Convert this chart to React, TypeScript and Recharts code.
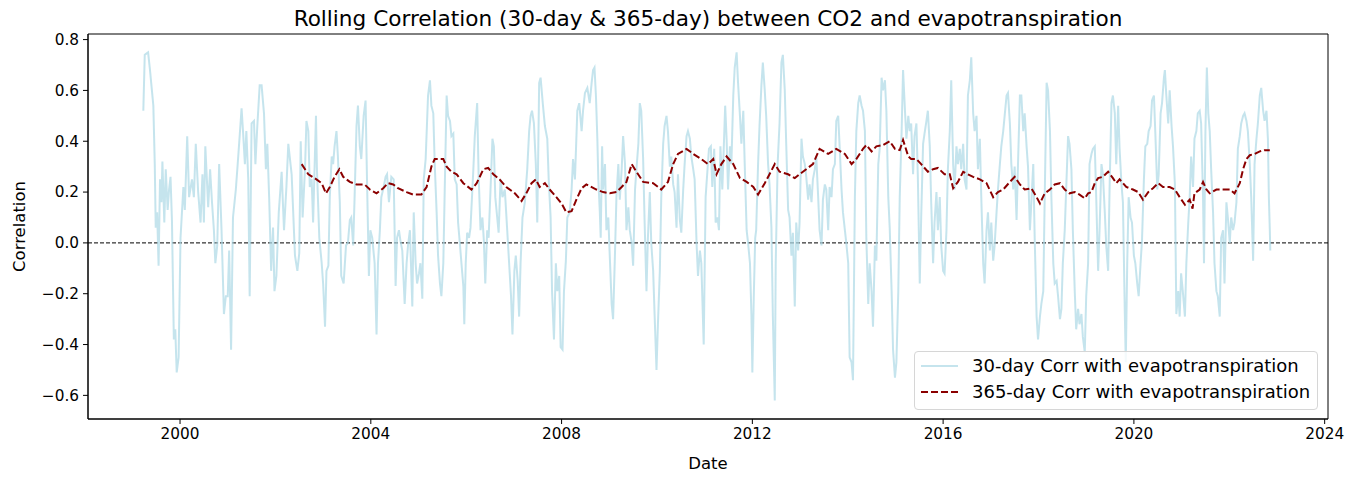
import { LineChart, Line, XAxis, YAxis, ReferenceLine, ReferenceArea, Legend } from 'recharts';

type Pt = [number, number];

const FONT = '"DejaVu Sans", Verdana, sans-serif';

const X_TICKS = [2000, 2004, 2008, 2012, 2016, 2020, 2024];
const Y_TICKS = [-0.6, -0.4, -0.2, 0, 0.2, 0.4, 0.6, 0.8];
const X_DOMAIN: [number, number] = [1998.07, 2024.07];
const Y_DOMAIN: [number, number] = [-0.693, 0.822];

const LABEL_30 = '30-day Corr with evapotranspiration';
const LABEL_365 = '365-day Corr with evapotranspiration';

// 30-day rolling correlation, [decimal year, r]
const corr30_1999: Pt[] = [
  [1999.23, 0.52], [1999.26, 0.74], [1999.33, 0.75], [1999.37, 0.68], [1999.40, 0.62], [1999.44, 0.54],
  [1999.47, 0.31], [1999.49, 0.06], [1999.52, 0.12], [1999.55, -0.09], [1999.58, 0.25], [1999.61, 0.16],
  [1999.63, 0.32], [1999.67, 0.08], [1999.70, 0.29], [1999.74, 0.13], [1999.77, 0.21], [1999.80, 0.26],
  [1999.83, 0.09], [1999.87, -0.38], [1999.90, -0.34], [1999.93, -0.51], [1999.97, -0.45], [2000.01, 0.02],
  [2000.07, 0.22], [2000.10, 0.13], [2000.15, 0.42], [2000.19, 0.18], [2000.25, 0.25], [2000.29, 0.18],
  [2000.33, 0.39], [2000.38, 0.20], [2000.43, 0.08], [2000.47, 0.27], [2000.50, 0.08], [2000.53, 0.38],
  [2000.59, 0.14], [2000.63, 0.29], [2000.67, 0.16], [2000.71, 0.05], [2000.74, -0.08], [2000.78, -0.01],
  [2000.82, 0.31], [2000.87, 0.05], [2000.92, -0.28], [2000.96, -0.21], [2001.00, -0.21], [2001.03, -0.03],
  [2001.07, -0.42], [2001.11, 0.10], [2001.17, 0.21], [2001.22, 0.34], [2001.25, 0.42], [2001.29, 0.53],
  [2001.32, 0.44], [2001.36, 0.31], [2001.39, 0.44], [2001.43, 0.25], [2001.46, -0.21], [2001.50, 0.47],
  [2001.55, 0.48], [2001.58, 0.31], [2001.62, 0.46], [2001.67, 0.62], [2001.71, 0.62], [2001.76, 0.51],
  [2001.80, 0.29], [2001.83, 0.39], [2001.87, 0.17], [2001.91, -0.11], [2001.95, 0.06], [2001.98, -0.19],
  [2002.02, -0.13], [2002.07, 0.12], [2002.13, 0.28], [2002.18, 0.05], [2002.23, 0.22], [2002.27, 0.39],
];

const corr30_2002: Pt[] = [
  [2002.34, 0.27], [2002.41, -0.05], [2002.46, -0.11], [2002.50, -0.04], [2002.53, 0.40], [2002.57, 0.10],
  [2002.62, 0.29], [2002.65, 0.48], [2002.69, 0.44], [2002.72, 0.22], [2002.76, 0.25], [2002.79, 0.08],
  [2002.85, 0.50], [2002.87, 0.29], [2002.92, 0.02], [2002.97, -0.08], [2003.00, -0.16], [2003.04, -0.33],
  [2003.07, -0.11], [2003.11, -0.09], [2003.14, 0.18], [2003.18, 0.34], [2003.21, 0.31], [2003.24, 0.38],
  [2003.28, 0.44], [2003.31, 0.34], [2003.35, 0.16], [2003.38, -0.13], [2003.43, -0.16], [2003.48, -0.01],
  [2003.52, 0.00], [2003.56, 0.09], [2003.59, 0.10], [2003.63, -0.01], [2003.66, 0.18], [2003.70, 0.46],
  [2003.73, 0.54], [2003.77, 0.38], [2003.80, 0.33], [2003.85, 0.50], [2003.89, 0.56], [2003.92, 0.25],
  [2003.96, -0.13], [2003.99, 0.05], [2004.03, 0.02], [2004.08, -0.08], [2004.12, -0.36], [2004.15, -0.08],
  [2004.19, 0.05], [2004.22, 0.18], [2004.27, 0.22], [2004.31, 0.26], [2004.34, 0.27], [2004.38, 0.16],
  [2004.43, 0.26], [2004.48, 0.25], [2004.52, -0.17], [2004.55, 0.02], [2004.59, 0.05], [2004.62, 0.01],
  [2004.66, -0.03], [2004.71, -0.24], [2004.75, -0.08], [2004.78, -0.01], [2004.82, 0.05], [2004.87, -0.25],
  [2004.90, 0.12], [2004.94, -0.08], [2004.97, -0.16], [2005.01, -0.12], [2005.04, -0.08], [2005.08, -0.22],
  [2005.11, 0.25], [2005.15, 0.33], [2005.20, 0.58], [2005.24, 0.64],
];

const corr30_2005: Pt[] = [
  [2005.27, 0.54], [2005.31, 0.51], [2005.34, 0.31], [2005.38, 0.12], [2005.41, -0.05], [2005.45, -0.16],
  [2005.48, -0.21], [2005.52, -0.08], [2005.55, 0.21], [2005.59, 0.58], [2005.62, 0.50], [2005.66, 0.48],
  [2005.69, 0.42], [2005.73, 0.43], [2005.76, 0.25], [2005.80, 0.23], [2005.83, 0.08], [2005.87, -0.01],
  [2005.90, -0.08], [2005.94, -0.17], [2005.96, -0.32], [2005.99, -0.08], [2006.02, 0.04], [2006.06, 0.02],
  [2006.09, 0.06], [2006.15, 0.29], [2006.18, 0.42], [2006.23, 0.55], [2006.26, 0.27], [2006.30, 0.05],
  [2006.34, 0.10], [2006.37, 0.01], [2006.40, -0.16], [2006.44, 0.05], [2006.47, 0.02], [2006.51, 0.21],
  [2006.55, 0.41], [2006.58, 0.38], [2006.61, 0.18], [2006.65, 0.10], [2006.68, 0.04], [2006.72, 0.25],
  [2006.76, 0.18], [2006.81, 0.21], [2006.86, 0.05], [2006.90, -0.08], [2006.94, -0.21], [2006.97, -0.36],
  [2007.01, -0.11], [2007.04, -0.05], [2007.08, -0.15], [2007.11, -0.29], [2007.14, -0.08], [2007.18, 0.10],
  [2007.23, 0.16], [2007.28, 0.29], [2007.32, 0.44], [2007.35, 0.50], [2007.38, 0.52], [2007.42, 0.47],
  [2007.46, 0.31], [2007.49, 0.08], [2007.53, 0.63], [2007.56, 0.65], [2007.61, 0.54], [2007.65, 0.46],
  [2007.70, 0.41], [2007.73, 0.25], [2007.77, 0.10], [2007.80, -0.19], [2007.84, -0.38], [2007.88, -0.08],
  [2007.91, -0.19], [2007.95, -0.13], [2007.98, -0.41], [2008.02, -0.42], [2008.05, -0.19], [2008.09, -0.07],
  [2008.12, 0.10], [2008.17, 0.12], [2008.21, 0.21], [2008.24, 0.33], [2008.28, 0.25], [2008.33, 0.52],
  [2008.37, 0.55], [2008.42, 0.44], [2008.45, 0.52], [2008.49, 0.59], [2008.54, 0.61],
];

const corr30_2008: Pt[] = [
  [2008.59, 0.55], [2008.63, 0.63], [2008.66, 0.68], [2008.69, 0.69], [2008.72, 0.58], [2008.75, 0.41],
  [2008.77, 0.25], [2008.80, 0.13], [2008.82, 0.02], [2008.85, 0.38], [2008.87, 0.21], [2008.91, 0.31],
  [2008.94, 0.05], [2008.98, 0.10], [2009.01, -0.05], [2009.05, -0.24], [2009.08, -0.30], [2009.12, -0.04],
  [2009.15, 0.18], [2009.19, 0.31], [2009.22, 0.17], [2009.26, 0.29], [2009.29, 0.42], [2009.33, 0.31],
  [2009.36, 0.05], [2009.40, 0.14], [2009.43, 0.05], [2009.47, 0.00], [2009.50, -0.09], [2009.54, 0.21],
  [2009.57, 0.29], [2009.61, 0.39], [2009.64, 0.55], [2009.67, 0.52], [2009.71, 0.33], [2009.74, 0.09],
  [2009.78, -0.19], [2009.81, 0.02], [2009.85, 0.20], [2009.88, 0.00], [2009.92, -0.11], [2009.95, -0.28],
  [2009.99, -0.50], [2010.02, -0.32], [2010.06, -0.11], [2010.09, 0.18], [2010.13, 0.39], [2010.16, 0.46],
  [2010.20, 0.50], [2010.23, 0.44], [2010.27, 0.30], [2010.30, 0.34], [2010.34, 0.23], [2010.37, 0.20],
  [2010.41, 0.06], [2010.44, 0.27], [2010.48, 0.09], [2010.51, 0.04], [2010.55, 0.21], [2010.58, 0.31],
  [2010.62, 0.42], [2010.65, 0.44], [2010.69, 0.41], [2010.72, 0.34], [2010.76, 0.29], [2010.79, 0.25],
  [2010.83, 0.00], [2010.86, -0.13], [2010.90, -0.03], [2010.93, -0.08], [2010.98, -0.40], [2011.02, 0.18],
  [2011.06, 0.29], [2011.09, 0.37], [2011.13, 0.38], [2011.16, 0.22], [2011.20, 0.37], [2011.23, 0.08],
  [2011.27, 0.10], [2011.30, 0.05], [2011.33, 0.38], [2011.37, 0.21], [2011.40, 0.37], [2011.43, 0.54],
  [2011.46, 0.41], [2011.49, 0.21], [2011.53, 0.38], [2011.56, 0.31], [2011.60, 0.58], [2011.63, 0.69],
  [2011.67, 0.75],
];

const corr30_2011: Pt[] = [
  [2011.70, 0.63], [2011.74, 0.50], [2011.77, 0.39], [2011.81, 0.52], [2011.84, 0.31], [2011.88, 0.05],
  [2011.91, 0.00], [2011.95, -0.08], [2011.98, -0.28], [2012.00, -0.51], [2012.03, -0.21], [2012.06, 0.02],
  [2012.08, 0.05], [2012.12, 0.31], [2012.15, 0.46], [2012.19, 0.62], [2012.22, 0.71], [2012.26, 0.60],
  [2012.29, 0.50], [2012.33, 0.31], [2012.36, 0.23], [2012.40, 0.06], [2012.43, -0.29], [2012.47, -0.62],
  [2012.49, -0.08], [2012.53, 0.31], [2012.57, 0.47], [2012.61, 0.71], [2012.64, 0.74], [2012.68, 0.60],
  [2012.71, 0.39], [2012.75, 0.13], [2012.78, 0.10], [2012.82, -0.05], [2012.85, 0.04], [2012.89, -0.25],
  [2012.92, 0.08], [2012.96, -0.03], [2012.99, 0.08], [2013.03, 0.41], [2013.06, 0.34], [2013.10, 0.31],
  [2013.13, 0.26], [2013.17, 0.17], [2013.20, 0.23], [2013.24, 0.16], [2013.27, 0.25], [2013.31, 0.29],
  [2013.34, 0.34], [2013.38, 0.18], [2013.41, 0.05], [2013.45, -0.01], [2013.48, 0.17], [2013.52, 0.23],
  [2013.55, 0.21], [2013.59, 0.05], [2013.62, 0.22], [2013.66, 0.18], [2013.69, 0.29], [2013.73, 0.31],
  [2013.76, 0.48], [2013.80, 0.50], [2013.83, 0.38], [2013.87, 0.21], [2013.90, 0.12], [2013.94, 0.05],
  [2013.97, 0.00], [2014.01, -0.08], [2014.04, -0.45], [2014.08, -0.47], [2014.11, -0.54], [2014.15, 0.18],
  [2014.18, 0.44], [2014.22, 0.55], [2014.25, 0.58], [2014.29, 0.54], [2014.32, 0.52], [2014.36, 0.44],
  [2014.39, 0.02], [2014.43, -0.24], [2014.46, -0.08], [2014.50, -0.19], [2014.53, -0.33], [2014.57, -0.01],
  [2014.60, -0.07], [2014.64, 0.31], [2014.67, 0.37], [2014.71, 0.65], [2014.74, 0.60], [2014.78, 0.64],
  [2014.81, 0.52], [2014.85, 0.18], [2014.88, 0.06],
];

const corr30_2014: Pt[] = [
  [2014.92, -0.19], [2014.95, -0.42], [2014.99, -0.53], [2015.02, -0.47], [2015.06, -0.19], [2015.09, 0.18],
  [2015.13, 0.44], [2015.16, 0.68], [2015.20, 0.52], [2015.23, 0.41], [2015.27, 0.50], [2015.30, 0.44],
  [2015.33, 0.47], [2015.37, 0.27], [2015.40, 0.42], [2015.44, 0.47], [2015.47, 0.26], [2015.51, -0.16],
  [2015.54, 0.10], [2015.58, 0.39], [2015.61, 0.43], [2015.65, 0.48], [2015.68, 0.52], [2015.72, 0.38],
  [2015.75, 0.16], [2015.79, -0.08], [2015.82, 0.08], [2015.86, 0.20], [2015.89, 0.05], [2015.93, 0.18],
  [2015.96, -0.01], [2016.00, -0.11], [2016.03, -0.12], [2016.07, 0.05], [2016.10, 0.29], [2016.14, 0.44],
  [2016.17, 0.64], [2016.21, 0.31], [2016.24, 0.21], [2016.28, 0.38], [2016.31, 0.31], [2016.35, 0.37],
  [2016.38, 0.29], [2016.42, 0.39], [2016.45, 0.25], [2016.49, 0.21], [2016.52, 0.58], [2016.56, 0.64],
  [2016.59, 0.73], [2016.63, 0.51], [2016.66, 0.44], [2016.70, 0.50], [2016.73, 0.29], [2016.77, 0.41],
  [2016.80, 0.18], [2016.84, -0.08], [2016.87, -0.16], [2016.91, 0.05], [2016.94, 0.12], [2016.98, -0.03],
  [2017.01, 0.08], [2017.05, -0.07], [2017.08, -0.01], [2017.12, 0.12], [2017.15, 0.21], [2017.19, 0.31],
  [2017.22, 0.38], [2017.26, 0.44], [2017.29, 0.50], [2017.33, 0.58], [2017.36, 0.59], [2017.40, 0.47],
  [2017.43, 0.31], [2017.47, 0.21], [2017.50, 0.30], [2017.54, 0.09], [2017.57, 0.31], [2017.61, 0.58],
  [2017.64, 0.58], [2017.68, 0.44], [2017.71, 0.51], [2017.75, 0.38], [2017.78, 0.30], [2017.82, 0.05],
  [2017.85, 0.16], [2017.89, 0.31], [2017.92, 0.02], [2017.96, -0.29], [2017.99, -0.38], [2018.03, -0.29],
];

const corr30_2018: Pt[] = [
  [2018.06, -0.24], [2018.10, -0.19], [2018.13, 0.18], [2018.17, 0.63], [2018.20, 0.60], [2018.24, 0.44],
  [2018.27, 0.18], [2018.31, -0.08], [2018.34, -0.16], [2018.38, -0.15], [2018.41, -0.21], [2018.45, -0.30],
  [2018.48, -0.26], [2018.51, -0.08], [2018.55, 0.05], [2018.58, 0.21], [2018.62, 0.42], [2018.65, 0.39],
  [2018.69, 0.29], [2018.72, 0.05], [2018.76, -0.19], [2018.79, -0.34], [2018.83, -0.26], [2018.86, -0.32],
  [2018.90, -0.28], [2018.93, -0.37], [2018.97, -0.43], [2019.00, -0.21], [2019.04, -0.08], [2019.07, 0.31],
  [2019.11, 0.35], [2019.14, 0.37], [2019.18, 0.38], [2019.21, 0.18], [2019.25, -0.11], [2019.28, 0.05],
  [2019.32, 0.31], [2019.35, 0.27], [2019.39, 0.12], [2019.42, -0.01], [2019.46, -0.11], [2019.49, 0.21],
  [2019.53, 0.55], [2019.56, 0.58], [2019.60, 0.51], [2019.63, 0.31], [2019.67, 0.54], [2019.70, 0.37],
  [2019.74, 0.23], [2019.77, 0.16], [2019.81, -0.28], [2019.83, -0.47], [2019.86, -0.08], [2019.89, 0.18],
  [2019.93, 0.10], [2019.96, 0.08], [2020.00, -0.05], [2020.03, -0.08], [2020.07, -0.16], [2020.10, -0.21],
  [2020.14, -0.08], [2020.17, 0.01], [2020.21, 0.25], [2020.24, 0.38], [2020.28, 0.39], [2020.31, 0.44],
  [2020.35, 0.46], [2020.38, 0.56], [2020.42, 0.58], [2020.45, 0.43], [2020.49, 0.21], [2020.52, 0.27],
  [2020.56, 0.51], [2020.59, 0.55], [2020.63, 0.65], [2020.65, 0.68], [2020.68, 0.58], [2020.72, 0.47],
  [2020.75, 0.60], [2020.79, 0.46], [2020.82, 0.38], [2020.86, 0.23], [2020.89, -0.28], [2020.93, -0.19],
  [2020.96, -0.29], [2020.99, -0.12], [2021.03, -0.20], [2021.07, -0.29], [2021.10, -0.08], [2021.14, 0.08],
  [2021.17, 0.18],
];

const corr30_2021: Pt[] = [
  [2021.20, 0.34], [2021.24, 0.22], [2021.27, 0.41], [2021.31, 0.44], [2021.34, 0.51], [2021.38, 0.52],
  [2021.41, 0.47], [2021.45, 0.18], [2021.47, -0.08], [2021.50, 0.44], [2021.53, 0.69], [2021.56, 0.51],
  [2021.59, 0.44], [2021.62, 0.29], [2021.66, 0.12], [2021.69, -0.08], [2021.73, -0.19], [2021.76, -0.21],
  [2021.80, -0.29], [2021.83, 0.02], [2021.87, 0.05], [2021.90, -0.16], [2021.94, 0.16], [2021.97, 0.10],
  [2022.01, 0.00], [2022.04, 0.10], [2022.08, 0.05], [2022.11, 0.08], [2022.15, 0.16], [2022.18, 0.37],
  [2022.22, 0.42], [2022.25, 0.47], [2022.29, 0.50], [2022.32, 0.51], [2022.36, 0.48], [2022.39, 0.44],
  [2022.43, 0.31], [2022.46, 0.18], [2022.50, -0.07], [2022.53, 0.31], [2022.57, 0.41], [2022.60, 0.47],
  [2022.64, 0.58], [2022.67, 0.61], [2022.71, 0.52], [2022.74, 0.48], [2022.78, 0.52], [2022.81, 0.41],
  [2022.83, 0.18], [2022.85, 0.05], [2022.86, -0.03],
];

// 365-day rolling correlation
const corr365_early: Pt[] = [
  [2002.55, 0.31], [2002.69, 0.27], [2002.86, 0.25], [2002.97, 0.235], [2003.06, 0.195], [2003.14, 0.22],
  [2003.24, 0.26], [2003.34, 0.29], [2003.42, 0.26], [2003.56, 0.24], [2003.70, 0.23], [2003.87, 0.23],
  [2003.98, 0.21], [2004.12, 0.195], [2004.26, 0.215], [2004.36, 0.235], [2004.47, 0.23], [2004.57, 0.215],
  [2004.75, 0.20], [2004.89, 0.19], [2005.06, 0.19], [2005.17, 0.22], [2005.27, 0.30], [2005.34, 0.33],
  [2005.52, 0.33], [2005.59, 0.30], [2005.69, 0.28], [2005.80, 0.27], [2005.94, 0.235], [2006.11, 0.21],
  [2006.22, 0.235], [2006.36, 0.29], [2006.46, 0.295], [2006.57, 0.27], [2006.70, 0.25], [2006.84, 0.22],
  [2007.02, 0.195], [2007.16, 0.165], [2007.26, 0.195], [2007.37, 0.235], [2007.46, 0.25], [2007.54, 0.22],
  [2007.65, 0.235], [2007.75, 0.21], [2007.89, 0.18], [2008.00, 0.155], [2008.10, 0.12], [2008.21, 0.125],
  [2008.31, 0.17], [2008.42, 0.215], [2008.52, 0.23], [2008.73, 0.21], [2008.87, 0.20], [2009.01, 0.195],
  [2009.15, 0.20], [2009.26, 0.22], [2009.36, 0.24], [2009.47, 0.31], [2009.57, 0.28], [2009.71, 0.24],
  [2009.92, 0.235], [2010.09, 0.21], [2010.23, 0.24], [2010.34, 0.31], [2010.44, 0.35], [2010.62, 0.37],
  [2010.76, 0.35], [2010.93, 0.33], [2011.07, 0.31], [2011.18, 0.33], [2011.25, 0.27], [2011.35, 0.31],
  [2011.46, 0.34], [2011.60, 0.31],
];

const corr365_mid: Pt[] = [
  [2011.74, 0.255], [2011.88, 0.24], [2012.02, 0.22], [2012.12, 0.19], [2012.26, 0.235], [2012.36, 0.27],
  [2012.47, 0.31], [2012.57, 0.28], [2012.75, 0.27], [2012.89, 0.255], [2012.99, 0.27], [2013.13, 0.29],
  [2013.27, 0.31], [2013.41, 0.37], [2013.59, 0.35], [2013.76, 0.37], [2013.94, 0.35], [2014.08, 0.31],
  [2014.18, 0.33], [2014.32, 0.37], [2014.39, 0.385], [2014.50, 0.36], [2014.60, 0.38], [2014.74, 0.385],
  [2014.88, 0.40], [2014.99, 0.37], [2015.09, 0.365], [2015.16, 0.405], [2015.27, 0.34], [2015.33, 0.33],
  [2015.44, 0.33], [2015.54, 0.31], [2015.68, 0.28], [2015.79, 0.29], [2015.89, 0.295], [2016.03, 0.27],
  [2016.14, 0.27], [2016.21, 0.215], [2016.31, 0.24], [2016.42, 0.28], [2016.52, 0.27], [2016.63, 0.26],
  [2016.77, 0.25], [2016.91, 0.235], [2017.05, 0.18], [2017.15, 0.20], [2017.26, 0.21], [2017.40, 0.24],
  [2017.50, 0.26], [2017.61, 0.23], [2017.71, 0.21], [2017.85, 0.215], [2017.96, 0.18],
];

const corr365_late: Pt[] = [
  [2018.03, 0.155], [2018.13, 0.195], [2018.24, 0.21], [2018.34, 0.23], [2018.45, 0.235], [2018.55, 0.21],
  [2018.65, 0.195], [2018.76, 0.20], [2018.86, 0.19], [2018.97, 0.175], [2019.04, 0.195], [2019.11, 0.20],
  [2019.18, 0.235], [2019.25, 0.255], [2019.35, 0.26], [2019.46, 0.28], [2019.56, 0.255], [2019.63, 0.235],
  [2019.70, 0.25], [2019.84, 0.22], [2019.98, 0.21], [2020.09, 0.20], [2020.19, 0.17], [2020.30, 0.20],
  [2020.40, 0.215], [2020.51, 0.235], [2020.61, 0.22], [2020.75, 0.22], [2020.86, 0.21], [2020.96, 0.18],
  [2021.07, 0.15], [2021.17, 0.17], [2021.23, 0.135], [2021.27, 0.195], [2021.38, 0.21], [2021.45, 0.24],
  [2021.52, 0.21], [2021.59, 0.195], [2021.73, 0.21], [2021.87, 0.21], [2022.01, 0.21], [2022.11, 0.195],
  [2022.22, 0.235], [2022.29, 0.29], [2022.36, 0.33], [2022.43, 0.345], [2022.53, 0.35], [2022.64, 0.36],
  [2022.74, 0.365], [2022.85, 0.365],
];

const toRows = (pts: Pt[]) => pts.map(([t, v]) => ({ t, v }));

const rows30 = toRows([
  ...corr30_1999, ...corr30_2002, ...corr30_2005, ...corr30_2008,
  ...corr30_2011, ...corr30_2014, ...corr30_2018, ...corr30_2021,
]);
const rows365 = toRows([...corr365_early, ...corr365_mid, ...corr365_late]);

const TICK_STYLE = { fill: '#000', fontSize: 15.3, fontFamily: FONT };
const AXIS_LABEL_SIZE = 16.5;

const yTickFormatter = (v: number) => {
  const s = Math.abs(v) < 1e-9 ? '0.0' : v.toFixed(1);
  return s.replace('-', '\u2212');
};

const renderLegend = () => (
  <div
    style={{
      position: 'relative',
      width: 404,
      height: 59,
      boxSizing: 'border-box',
      border: '1px solid #d6d6d6',
      borderRadius: 4,
      background: 'rgba(255,255,255,0.8)',
      fontFamily: FONT,
      fontSize: 18,
      lineHeight: '21px',
      color: '#000',
    }}
  >
    <svg width={50} height={59} style={{ position: 'absolute', left: 0, top: 0 }}>
      <line x1={6} x2={43} y1={14} y2={14} stroke="#ADD8E6" strokeOpacity={0.7} strokeWidth={2} />
      <line x1={6} x2={43} y1={40} y2={40} stroke="#8B0000" strokeWidth={2} strokeDasharray="7 3" />
    </svg>
    <div style={{ position: 'absolute', left: 57, top: 3, whiteSpace: 'nowrap' }}>{LABEL_30}</div>
    <div style={{ position: 'absolute', left: 57, top: 29, whiteSpace: 'nowrap' }}>{LABEL_365}</div>
  </div>
);

export default function App() {
  return (
    <div style={{ position: 'absolute', left: 0, top: 0, width: 1355, height: 480, background: '#fff' }}>
      <div
        style={{
          position: 'absolute',
          left: 88,
          width: 1240,
          top: 6,
          textAlign: 'center',
          fontFamily: FONT,
          fontSize: 21.6,
          lineHeight: '25px',
          color: '#000',
        }}
      >
        Rolling Correlation (30-day &amp; 365-day) between CO2 and evapotranspiration
      </div>
      <LineChart width={1355} height={480} margin={{ top: 34, right: 27, bottom: 0, left: 0 }}>
        <XAxis
          dataKey="t"
          type="number"
          domain={X_DOMAIN}
          ticks={X_TICKS}
          allowDataOverflow
          height={61}
          tick={TICK_STYLE}
          tickSize={5}
          tickMargin={4}
          stroke="#000"
          label={{ value: 'Date', position: 'insideBottom', offset: 11, fill: '#000', fontSize: AXIS_LABEL_SIZE, fontFamily: FONT }}
        />
        <YAxis
          type="number"
          domain={Y_DOMAIN}
          ticks={Y_TICKS}
          allowDataOverflow
          width={88}
          tick={TICK_STYLE}
          tickSize={5}
          tickMargin={4}
          tickFormatter={yTickFormatter}
          stroke="#000"
          label={{
            value: 'Correlation',
            angle: -90,
            position: 'insideLeft',
            offset: 19,
            style: { textAnchor: 'middle' },
            fill: '#000',
            fontSize: AXIS_LABEL_SIZE,
            fontFamily: FONT,
          }}
        />
        <ReferenceLine y={0} stroke="#000" strokeWidth={1} strokeDasharray="4 2" />
        <Line
          data={rows30}
          dataKey="v"
          type="linear"
          stroke="#ADD8E6"
          strokeOpacity={0.7}
          strokeWidth={2}
          dot={false}
          isAnimationActive={false}
          name={LABEL_30}
        />
        <Line
          data={rows365}
          dataKey="v"
          type="linear"
          stroke="#8B0000"
          strokeWidth={2}
          strokeDasharray="7 3"
          dot={false}
          isAnimationActive={false}
          name={LABEL_365}
        />
        <ReferenceArea
          x1={X_DOMAIN[0]}
          x2={X_DOMAIN[1]}
          y1={Y_DOMAIN[0]}
          y2={Y_DOMAIN[1]}
          fill="none"
          stroke="#000"
          strokeWidth={1}
        />
        <Legend
          content={renderLegend}
          layout="horizontal"
          verticalAlign="middle"
          align="center"
          wrapperStyle={{ left: 914, top: 351, width: 404, height: 59 }}
        />
      </LineChart>
    </div>
  );
}
